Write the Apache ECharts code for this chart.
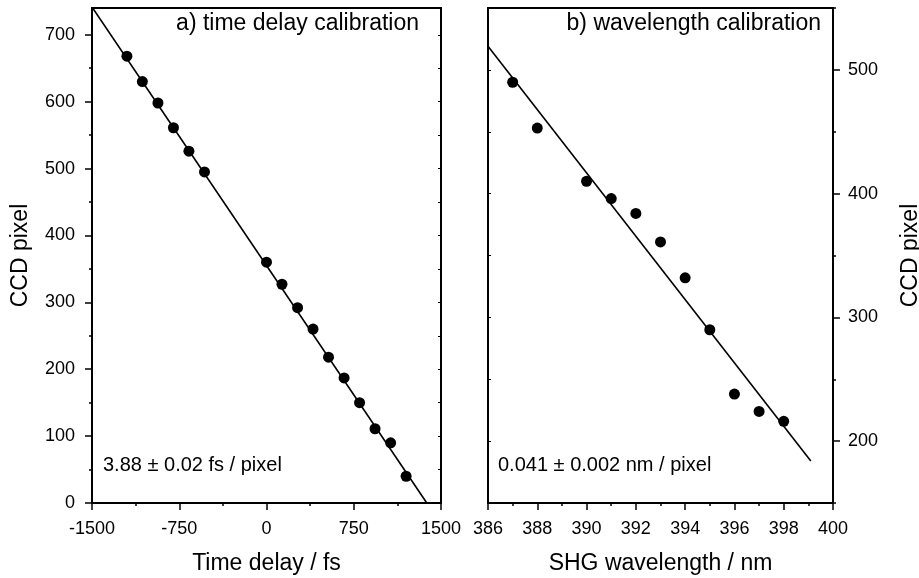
<!DOCTYPE html>
<html>
<head>
<meta charset="utf-8">
<script src="https://cdn.jsdelivr.net/npm/echarts@6/dist/echarts.min.js"></script>
<style>
html,body{margin:0;padding:0;background:#fff;}
#chart{width:919px;height:578px;}
</style>
</head>
<body>
<div id="chart"></div>
<script>
// ---- data ----
const delayX = [-1200, -1067, -933, -800, -667, -533, 0, 133, 267, 400, 533, 667, 800, 933, 1067, 1200];
const delayPixel = [668, 630, 598, 561, 526, 495, 360, 327, 292, 260, 218, 187, 150, 111, 90, 40];
const delayFitX = [-1500, 1378];
const delayFitY = [741.5, 0];

const waveX = [387, 388, 390, 391, 392, 393, 394, 395, 396, 397, 398];
const wavePixel = [490, 453, 410, 396, 384, 361, 332, 290, 238, 224, 216];
const waveFitX = [386, 399.1];
const waveFitY = [519, 184];

const leftMajorTicks = [0, 100, 200, 300, 400, 500, 600, 700];
const leftMinorTicks = [50, 150, 250, 350, 450, 550, 650];
const leftAllTicks = [0, 50, 100, 150, 200, 250, 300, 350, 400, 450, 500, 550, 600, 650, 700];
const rightMajorTicks = [200, 300, 400, 500];
const rightMinorTicks = [150, 250, 350, 450, 550];
const rightAllTicks = [150, 200, 250, 300, 350, 400, 450, 500, 550];

const titleA = 'a) time delay calibration';
const titleB = 'b) wavelength calibration';
const noteA = '3.88 ± 0.02 fs / pixel';
const noteB = '0.041 ± 0.002 nm / pixel';

const FONT = 'Liberation Sans, Arial, Helvetica, sans-serif';
const black = '#000';

function pairs(xs, ys) { return xs.map((x, i) => [x, ys[i]]); }

const lineStyleAxis = { color: black, width: 2 };

function xAxisCfg(gridIndex, min, max, interval, name) {
  return {
    type: 'value', gridIndex, min, max, interval,
    axisLine: { show: true, onZero: false, lineStyle: lineStyleAxis },
    axisTick: { show: true, inside: false, length: 7, lineStyle: { color: black, width: 1.5 } },
    minorTick: { show: true, splitNumber: 2, length: 3, lineStyle: { color: black, width: 1.5 } },
    axisLabel: { show: true, color: black, fontSize: 18, fontFamily: FONT, margin: 17, formatter: v => String(v) },
    splitLine: { show: false },
    name, nameLocation: 'middle', nameGap: 49,
    nameTextStyle: { color: black, fontSize: 23, fontFamily: FONT }
  };
}

function yAxisCfg(opts) {
  return Object.assign({
    type: 'value',
    axisLine: { show: true, onZero: false, lineStyle: lineStyleAxis },
    splitLine: { show: false },
    minorTick: { show: false }
  }, opts);
}

const chart = echarts.init(document.getElementById('chart'), null, { renderer: 'canvas' });

const option = {
  backgroundColor: '#fff',
  animation: false,
  textStyle: { fontFamily: FONT },
  grid: [
    { left: 92, top: 8, width: 349, height: 495, outerBoundsMode: 'none', containLabel: false, show: true, borderColor: black, borderWidth: 2, backgroundColor: 'transparent' },
    { left: 488, top: 8, width: 345, height: 495, outerBoundsMode: 'none', containLabel: false, show: true, borderColor: black, borderWidth: 2, backgroundColor: 'transparent' }
  ],
  title: [
    { text: titleA, right: 500, top: 12, textStyle: { fontSize: 23, fontWeight: 'normal', color: black, fontFamily: FONT }, padding: 0 },
    { text: titleB, right: 98, top: 12, textStyle: { fontSize: 23, fontWeight: 'normal', color: black, fontFamily: FONT }, padding: 0 },
    { text: noteA, left: 103, top: 455, textStyle: { fontSize: 20, fontWeight: 'normal', color: black, fontFamily: FONT }, padding: 0 },
    { text: noteB, left: 498, top: 455, textStyle: { fontSize: 20, fontWeight: 'normal', color: black, fontFamily: FONT }, padding: 0 }
  ],
  xAxis: [
    xAxisCfg(0, -1500, 1500, 750, 'Time delay / fs'),
    xAxisCfg(1, 386, 400, 2, 'SHG wavelength / nm')
  ],
  yAxis: [
    yAxisCfg({
      gridIndex: 0, position: 'left', min: 0, max: 740,
      axisTick: { show: true, inside: false, length: 7, customValues: leftMajorTicks, lineStyle: { color: black, width: 1.5 } },
      axisLabel: { show: true, customValues: leftMajorTicks, color: black, fontSize: 18, fontFamily: FONT, margin: 17 },
      name: 'CCD pixel', nameLocation: 'middle', nameGap: 60,
      nameTextStyle: { color: black, fontSize: 23, fontFamily: FONT }
    }),
    yAxisCfg({
      gridIndex: 0, position: 'left', min: 0, max: 740,
      axisLine: { show: false, onZero: false },
      axisTick: { show: true, inside: false, length: 3, customValues: leftMinorTicks, lineStyle: { color: black, width: 1.5 } },
      axisLabel: { show: false }
    }),
    yAxisCfg({
      gridIndex: 0, position: 'right', min: 0, max: 740,
      axisTick: { show: true, inside: true, length: 3, customValues: leftAllTicks, lineStyle: { color: black, width: 1 } },
      axisLabel: { show: false }
    }),
    yAxisCfg({
      gridIndex: 1, position: 'right', min: 150, max: 550,
      axisTick: { show: true, inside: false, length: 7, customValues: rightMajorTicks, lineStyle: { color: black, width: 1.5 } },
      axisLabel: { show: true, customValues: rightMajorTicks, color: black, fontSize: 18, fontFamily: FONT, margin: 15 },
      name: 'CCD pixel', nameLocation: 'middle', nameGap: 66, nameRotate: 90,
      nameTextStyle: { color: black, fontSize: 23, fontFamily: FONT }
    }),
    yAxisCfg({
      gridIndex: 1, position: 'right', min: 150, max: 550,
      axisLine: { show: false, onZero: false },
      axisTick: { show: true, inside: false, length: 3, customValues: rightMinorTicks, lineStyle: { color: black, width: 1.5 } },
      axisLabel: { show: false }
    }),
    yAxisCfg({
      gridIndex: 1, position: 'left', min: 150, max: 550,
      axisTick: { show: true, inside: true, length: 3, customValues: rightAllTicks, lineStyle: { color: black, width: 1 } },
      axisLabel: { show: false }
    })
  ],
  series: [
    {
      type: 'line', xAxisIndex: 0, yAxisIndex: 0, data: pairs(delayFitX, delayFitY),
      showSymbol: false, symbol: 'none', clip: true,
      lineStyle: { color: black, width: 1.6 }, z: 2
    },
    {
      type: 'scatter', xAxisIndex: 0, yAxisIndex: 0, data: pairs(delayX, delayPixel),
      symbol: 'circle', symbolSize: 11, itemStyle: { color: black, opacity: 1 }, z: 3
    },
    {
      type: 'line', xAxisIndex: 1, yAxisIndex: 3, data: pairs(waveFitX, waveFitY),
      showSymbol: false, symbol: 'none', clip: true,
      lineStyle: { color: black, width: 1.6 }, z: 2
    },
    {
      type: 'scatter', xAxisIndex: 1, yAxisIndex: 3, data: pairs(waveX, wavePixel),
      symbol: 'circle', symbolSize: 11, itemStyle: { color: black, opacity: 1 }, z: 3
    }
  ]
};

chart.setOption(option);
</script>
</body>
</html>
